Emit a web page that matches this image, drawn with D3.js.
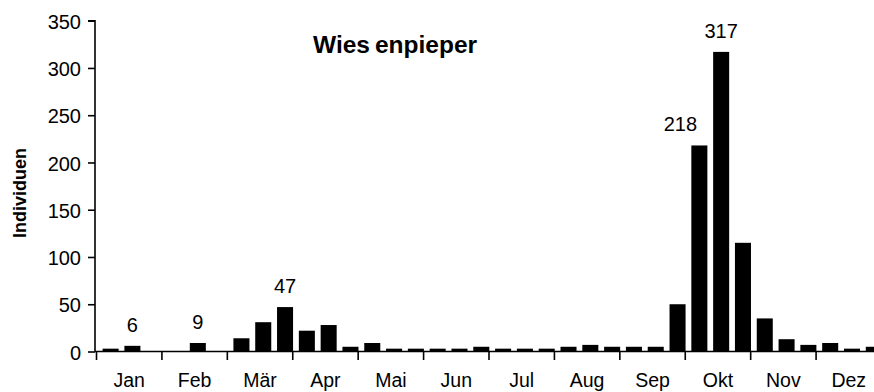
<!DOCTYPE html>
<html>
<head>
<meta charset="utf-8">
<script src="https://cdn.jsdelivr.net/npm/d3@7"></script>
<style>
  html, body { margin: 0; padding: 0; background: #fff; }
  svg { display: block; }
  text { font-family: "Liberation Sans", Arial, sans-serif; fill: #000; }
</style>
</head>
<body>
<svg id="chart" width="874" height="392"></svg>
<script>
// Wiesenpieper: Individuen je Monatsdrittel (Dekade)
const months = ["Jan", "Feb", "Mär", "Apr", "Mai", "Jun", "Jul", "Aug", "Sep", "Okt", "Nov", "Dez"];
const thirds = ["1", "2", "3"];
const counts = [
  3, 6, 0,      // Jan
  0, 9, 0,      // Feb
  14, 31, 47,   // Mär
  22, 28, 5,    // Apr
  9, 3, 3,      // Mai
  3, 3, 5,      // Jun
  3, 3, 3,      // Jul
  5, 7, 5,      // Aug
  5, 5, 50,     // Sep
  218, 317, 115,// Okt
  35, 13, 7,    // Nov
  9, 3, 5       // Dez
];
const labeledBars = [1, 4, 8, 27, 28];
const yTicks = [0, 50, 100, 150, 200, 250, 300, 350];
const title = ["Wies", "enpieper"];
const yTitle = "Individuen";

const keys = months.flatMap(m => thirds.map(t => m + "-" + t));
const data = keys.map((k, i) => ({ key: k, value: counts[i], i }));

const svg = d3.select("#chart");

const y = d3.scaleLinear().domain([0, 350]).range([351.5, 20.7]);
const xMonth = d3.scaleBand().domain(months).range([96.5, 881.5]);
const x = d3.scaleBand().domain(keys).range([99.7, 884.7])
  .paddingInner(0.265).paddingOuter(0.1325);

// bars
svg.append("g").selectAll("rect").data(data).join("rect")
  .attr("x", d => x(d.key))
  .attr("width", x.bandwidth())
  .attr("y", d => y(d.value))
  .attr("height", d => y(0) - y(d.value))
  .attr("fill", "#000");

// y axis
const yAxis = svg.append("g").attr("transform", "translate(95,0)")
  .call(d3.axisLeft(y).tickValues(yTicks).tickSize(7).tickPadding(7));
yAxis.select(".domain").attr("stroke", "#000").attr("stroke-width", 1.6)
  .attr("d", `M-7,${y(350)}H0V${y(0)}`);
yAxis.selectAll(".tick line").attr("stroke", "#000").attr("stroke-width", 1.6);
yAxis.selectAll(".tick text")
  .style("font-family", "'Liberation Sans', Arial, sans-serif")
  .style("font-size", "20px").attr("fill", "#000").attr("dy", "0.38em");

// x axis with ticks at month boundaries
const xAxis = svg.append("g").attr("transform", `translate(0,${y(0)})`);
xAxis.append("line")
  .attr("x1", 95).attr("x2", 874).attr("y1", 0).attr("y2", 0)
  .attr("stroke", "#000").attr("stroke-width", 1.6);
const bounds = months.map(m => xMonth(m)).concat([xMonth.range()[1]]);
xAxis.selectAll("line.tick").data(bounds).join("line")
  .attr("class", "tick")
  .attr("x1", d => d).attr("x2", d => d)
  .attr("y1", 0).attr("y2", 8.5)
  .attr("stroke", "#000").attr("stroke-width", 1.6);
xAxis.selectAll("text").data(months).join("text")
  .attr("x", d => xMonth(d) + xMonth.bandwidth() / 2)
  .attr("y", 35.5)
  .attr("text-anchor", "middle")
  .style("font-size", "19.5px")
  .text(d => d);

// value labels; a label next to a taller bar moves left to stay clear of it
svg.append("g").selectAll("text").data(labeledBars.map(i => data[i])).join("text")
  .attr("x", d => {
    const c = x(d.key) + x.bandwidth() / 2;
    const next = data[d.i + 1];
    return next && next.value > d.value ? c - x.step() * 0.87 : c;
  })
  .attr("y", d => y(d.value) - 14)
  .attr("text-anchor", "middle")
  .style("font-size", "20px")
  .text(d => d.value);

// title
svg.append("text")
  .attr("x", 313).attr("y", 53)
  .style("font-size", "24.5px").style("font-weight", "bold")
  .call(t => {
    t.append("tspan").text(title[0]);
    t.append("tspan").attr("dx", 5).text(title[1]);
  });

// y axis title
svg.append("text")
  .attr("transform", "translate(26,193) rotate(-90)")
  .attr("text-anchor", "middle")
  .style("font-size", "18px").style("font-weight", "bold")
  .text(yTitle);
</script>
</body>
</html>
